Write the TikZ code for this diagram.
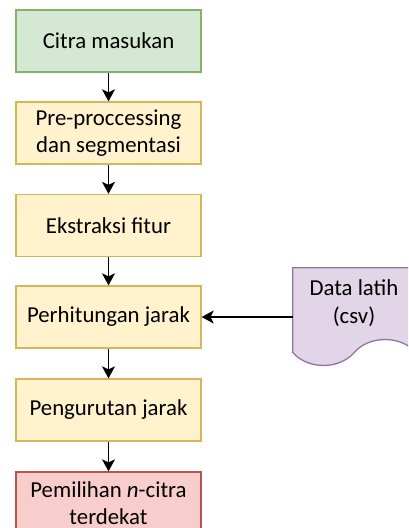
\documentclass[tikz,border=0pt]{standalone}
\usepackage{fontspec}
\setmainfont{Carlito}
\usetikzlibrary{arrows.meta}

% warna isi dan garis tepi
\definecolor{hijauisi}{HTML}{D5E8D4}
\definecolor{hijaugaris}{HTML}{82B366}
\definecolor{kuningisi}{HTML}{FFF2CC}
\definecolor{kuninggaris}{HTML}{D6B656}
\definecolor{merahisi}{HTML}{F8CECC}
\definecolor{merahgaris}{HTML}{B85450}
\definecolor{unguisi}{HTML}{E1D5E7}
\definecolor{ungugaris}{HTML}{9673A6}

\tikzset{
  tulisan/.style={font=\fontsize{22.8bp}{27.4bp}\selectfont, align=center},
  kotak/.style={tulisan, draw, line width=1.3bp, minimum width=185bp,
    minimum height=62bp, inner sep=0pt},
  proses/.style={kotak, fill=kuningisi, draw=kuninggaris},
  panah/.style={-{Stealth[length=12bp,width=13bp,inset=3bp]}, line width=1.5bp}
}

\begin{document}
\begin{tikzpicture}[x=1bp,y=-1bp]
\useasboundingbox (0,0) rectangle (408,528);
\clip (0,0) rectangle (408,528);

% Langkah-langkah utama
\node [kotak, fill=hijauisi, draw=hijaugaris] (masukan) at (108.5,41) {Citra masukan};%
\node [proses] (prapros) at (108.5,133) {Pre-proccessing\\dan segmentasi};%
\node [proses] (fitur) at (108.5,225.5) {Ekstraksi fitur};%
\node [proses] (jarak) at (108.5,317) {Perhitungan jarak};%
\node [proses] (urut) at (108.5,410) {Pengurutan jarak};%
\node [kotak, fill=merahisi, draw=merahgaris] (pilih) at (108.5,503) {Pemilihan \textit{n}-citra\\terdekat};%

% Dokumen data latih, tepi bawah bergelombang
\draw [line width=1.3bp, draw=ungugaris, fill=unguisi]
  (292.7,352.5) -- (292.7,267.7) -- (416,267.7) -- (416,352.5)
  .. controls (401,335.2) and (369,335.2) .. (354.3,352.5)
  .. controls (339,369.8) and (308,369.8) .. (292.7,352.5) -- cycle;%
\node [tulisan] (latih) at (354,303) {Data latih\\(csv)};%
\coordinate (dokumen) at (292.7,317);

% Panah antar langkah
\draw [panah] (masukan) -- (prapros);%
\draw [panah] (prapros) -- (fitur);%
\draw [panah] (fitur) -- (jarak);%
\draw [panah] (jarak) -- (urut);%
\draw [panah] (urut) -- (pilih);%
\draw [panah] (dokumen) -- (jarak);%
\end{tikzpicture}
\end{document}
